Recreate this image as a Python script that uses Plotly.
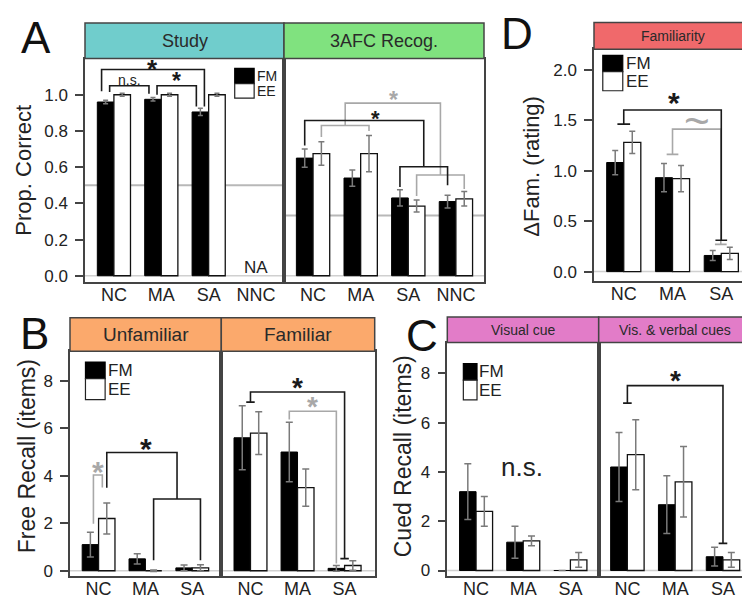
import plotly.graph_objects as go

W, H = 750, 603
FONT = "Liberation Sans, Arial, sans-serif"


def fx(x):
    return x / W


def fy(y):
    return 1 - y / H


# ---------------- data ----------------
cats_A = ["NC", "MA", "SA", "NNC"]
study_fm = [0.96, 0.975, 0.905, None]
study_fm_err = [0.01, 0.01, 0.02, None]
study_ee = [1.0, 1.0, 1.0, None]
study_ee_err = [0.008, 0.008, 0.008, None]
recog_fm = [0.65, 0.54, 0.43, 0.41]
recog_fm_err = [0.05, 0.045, 0.045, 0.035]
recog_ee = [0.675, 0.675, 0.385, 0.425]
recog_ee_err = [0.065, 0.10, 0.033, 0.04]

cats = ["NC", "MA", "SA"]
famrate_fm = [1.08, 0.93, 0.16]
famrate_fm_err = [0.12, 0.14, 0.05]
famrate_ee = [1.28, 0.92, 0.18]
famrate_ee_err = [0.11, 0.13, 0.06]

unfam_fm = [1.1, 0.5, 0.12]
unfam_fm_err = [0.52, 0.22, 0.12]
unfam_ee = [2.2, 0.0, 0.12]
unfam_ee_err = [0.65, 0.03, 0.13]
fam_fm = [5.6, 5.0, 0.1]
fam_fm_err = [1.35, 1.25, 0.12]
fam_ee = [5.8, 3.5, 0.22]
fam_ee_err = [0.9, 0.78, 0.2]

vis_fm = [3.2, 1.15, 0.0]
vis_fm_err = [1.13, 0.65, 0.0]
vis_ee = [2.4, 1.2, 0.43]
vis_ee_err = [0.6, 0.2, 0.3]
vv_fm = [4.2, 2.67, 0.56]
vv_fm_err = [1.4, 1.17, 0.38]
vv_ee = [4.7, 3.6, 0.43]
vv_ee_err = [1.42, 1.43, 0.3]

# ---------------- panels ----------------
panels = {
    1: (77, 276, 51, 276, [-0.033, 1.2], [-0.61, 3.59], cats_A, study_fm, study_fm_err, study_ee, study_ee_err,
        [0, 0.2, 0.4, 0.6, 0.8, 1.0], "{:.1f}", 2.5),
    2: (276, 476, 51, 276, [-0.033, 1.2], [-0.61, 3.59], cats_A, recog_fm, recog_fm_err, recog_ee, recog_ee_err,
        None, None, 3),
    3: (586, 744, 41.7, 275, [-0.09, 2.2], [-0.61, 2.63], cats, famrate_fm, famrate_fm_err, famrate_ee,
        famrate_ee_err, [0, 0.5, 1.0, 1.5, 2.0], "{:.1f}", 3),
    4: (62, 213.3, 346, 572.7, [-0.22, 9.25], [-0.61, 2.62], cats, unfam_fm, unfam_fm_err, unfam_ee, unfam_ee_err,
        [0, 2, 4, 6, 8], "{:d}", 3.5),
    5: (213.3, 366.7, 346, 572.7, [-0.22, 9.25], [-0.62, 2.64], cats, fam_fm, fam_fm_err, fam_ee, fam_ee_err,
        None, None, 3.5),
    6: (439.3, 590.7, 337.3, 572.7, [-0.22, 9.25], [-0.61, 2.6], cats, vis_fm, vis_fm_err, vis_ee, vis_ee_err,
        [0, 2, 4, 6, 8], "{:d}", 3.5),
    7: (590.7, 742.7, 337.3, 572.7, [-0.22, 9.25], [-0.6, 2.58], cats, vv_fm, vv_fm_err, vv_ee, vv_ee_err,
        None, None, 3.5),
}

fig = go.Figure()
layout_axes = {}
ERRC = "#7a7a7a"
for k, (x0, x1, yt, yb, yr, xr, cs, fm, fme, ee, eee, yt_vals, fmt, capw) in panels.items():
    xa = "x" if k == 1 else f"x{k}"
    ya = "y" if k == 1 else f"y{k}"
    xs = list(range(len(cs)))
    fig.add_trace(go.Bar(x=xs, y=fm, xaxis=xa, yaxis=ya, name="FM", showlegend=False,
                         marker=dict(color="#000000", line=dict(color="#000000", width=1)),
                         error_y=dict(type="data", array=fme, color=ERRC, thickness=1.5, width=capw)))
    fig.add_trace(go.Bar(x=xs, y=ee, xaxis=xa, yaxis=ya, name="EE", showlegend=False,
                         marker=dict(color="#ffffff", line=dict(color="#111111", width=1.3)),
                         error_y=dict(type="data", array=eee, color=ERRC, thickness=1.5, width=capw)))
    xkey = "xaxis" if k == 1 else f"xaxis{k}"
    ykey = "yaxis" if k == 1 else f"yaxis{k}"
    layout_axes[xkey] = dict(domain=[fx(x0), fx(x1)], range=xr, anchor=ya, showgrid=False, zeroline=False,
                             showline=True, mirror=True, linecolor="#444", linewidth=1.5,
                             tickvals=xs, ticktext=cs, ticks="", ticklabelstandoff=-4,
                             tickfont=dict(family=FONT, size=18, color="#222"),
                             fixedrange=True)
    yd = dict(domain=[fy(yb), fy(yt)], range=yr, anchor=xa, showgrid=False, zeroline=False,
              showline=True, mirror=True, linecolor="#444", linewidth=1.5, fixedrange=True)
    if yt_vals is not None:
        yd.update(tickvals=yt_vals, ticktext=[fmt.format(v) for v in yt_vals], ticks="outside",
                  ticklen=8, tickwidth=1.5, tickcolor="#444",
                  tickfont=dict(family=FONT, size=17, color="#222"), ticklabelstandoff=4)
    else:
        yd.update(showticklabels=False, ticks="")
    layout_axes[ykey] = yd

shapes = []
annotations = []


def refs(k):
    return ("x" if k == 1 else f"x{k}"), ("y" if k == 1 else f"y{k}")


# reference lines
for k in panels:
    xr_, yr_ = refs(k)
    shapes.append(dict(type="line", xref=xr_ + " domain", yref=yr_, x0=0, x1=1, y0=0, y1=0,
                       line=dict(color="#d0d0d0", width=1.5), layer="below"))
shapes.append(dict(type="line", xref="x domain", yref="y", x0=0, x1=1, y0=0.5, y1=0.5,
                   line=dict(color="#b8b8b8", width=2), layer="below"))
shapes.append(dict(type="line", xref="x2 domain", yref="y2", x0=0, x1=1, y0=1 / 3, y1=1 / 3,
                   line=dict(color="#b8b8b8", width=2), layer="below"))

# header strips
headers = [
    (77, 276, 15, 51, "#70cdcc", "Study", 18),
    (276, 476, 15, 51, "#80e27f", "3AFC Recog.", 18),
    (586, 744, 14.7, 41.7, "#f0696b", "Familiarity", 14),
    (62, 213.3, 312.3, 346, "#fba96c", "Unfamiliar", 19),
    (213.3, 366.7, 312.3, 346, "#fba96c", "Familiar", 19),
    (439.3, 590.7, 311.7, 337.3, "#e27cc8", "Visual cue", 14),
    (590.7, 742.7, 311.7, 337.3, "#e27cc8", "Vis. & verbal cues", 14),
]
for x0, x1, y0, y1, col, txt, sz in headers:
    shapes.append(dict(type="rect", xref="paper", yref="paper", x0=fx(x0), x1=fx(x1), y0=fy(y1), y1=fy(y0),
                       fillcolor=col, line=dict(color="#444", width=1.5), layer="above"))
    annotations.append(dict(text=txt, xref="paper", yref="paper", x=fx((x0 + x1) / 2), y=fy((y0 + y1) / 2),
                            xanchor="center", yanchor="middle", showarrow=False,
                            font=dict(family=FONT, size=sz, color="#2a2a2a")))

# panel letters
for txt, cx, cy in [("A", 28, 30), ("D", 509, 26), ("B", 26, 328), ("C", 414, 330)]:
    annotations.append(dict(text=txt, xref="paper", yref="paper", x=fx(cx), y=fy(cy), xanchor="center",
                            yanchor="middle", showarrow=False, font=dict(family=FONT, size=44, color="#111")))

# y titles
for txt, cx, cy, sz in [("Prop. Correct", 16, 164, 22), ("\u0394Fam. (rating)", 524, 160, 22),
                        ("Free Recall (items)", 19, 452, 23), ("Cued Recall (items)", 395, 452, 23)]:
    annotations.append(dict(text=txt, xref="paper", yref="paper", x=fx(cx), y=fy(cy), xanchor="center",
                            yanchor="middle", textangle=-90, showarrow=False,
                            font=dict(family=FONT, size=sz, color="#222")))

BLACK = "#1a1a1a"
GREY = "#a8a8a8"
OFF = 0.175  # half bar width: FM bar centred at i-OFF, EE bar at i+OFF


def FM(i):
    return i - OFF


def EE(i):
    return i + OFF


def poly(k, pts, color):
    xr_, yr_ = refs(k)
    path = "M " + " L ".join(f"{x},{y}" for x, y in pts)
    shapes.append(dict(type="path", path=path, xref=xr_, yref=yr_, line=dict(color=color, width=1.6),
                       layer="above"))


def cap(k, x, y, color, hw=0.1):
    poly(k, [(x - hw, y), (x + hw, y)], color)


def star(k, x, y, color, size, txt="<b>*</b>"):
    xr_, yr_ = refs(k)
    annotations.append(dict(text=txt, xref=xr_, yref=yr_, x=x, y=y, xanchor="center", yanchor="middle",
                            yshift=-0.2 * size, showarrow=False,
                            font=dict(family=FONT, size=size, color=color)))


def label(k, x, y, txt, size, color="#222"):
    xr_, yr_ = refs(k)
    annotations.append(dict(text=txt, xref=xr_, yref=yr_, x=x, y=y, xanchor="center", yanchor="middle",
                            showarrow=False, font=dict(family=FONT, size=size, color=color)))


def legend(k, x0, x1, yb0, yb1, yw0, tx, size):
    xr_, yr_ = refs(k)
    shapes.append(dict(type="rect", xref=xr_, yref=yr_, x0=x0, x1=x1, y0=yb0, y1=yb1, fillcolor="#000",
                       line=dict(color="#000", width=1.2), layer="above"))
    shapes.append(dict(type="rect", xref=xr_, yref=yr_, x0=x0, x1=x1, y0=yw0, y1=yb0, fillcolor="#fff",
                       line=dict(color="#222", width=1.2), layer="above"))
    for t, yy in [("FM", (yb0 + yb1) / 2), ("EE", (yw0 + yb0) / 2)]:
        annotations.append(dict(text=t, xref=xr_, yref=yr_, x=tx, y=yy, xanchor="left", yanchor="middle",
                                showarrow=False, font=dict(family=FONT, size=size, color="#222")))


# ---- Panel A, study ----
d = 0.085
poly(1, [(FM(0) - d, 1.02), (FM(0) - d, 1.14), (FM(2) + d, 1.14), (FM(2) + d, 0.935)], BLACK)
poly(1, [(FM(0) + d, 1.015), (FM(0) + d, 1.05), (FM(1) - d, 1.05), (FM(1) - d, 1.005)], BLACK)
poly(1, [(FM(1) + d, 1.0), (FM(1) + d, 1.05), (FM(2) - d, 1.05), (FM(2) - d, 0.935)], BLACK)
star(1, 0.82, 1.17, BLACK, 26)
star(1, 1.33, 1.10, BLACK, 23)
label(1, 0.33, 1.08, "n.s.", 14)
label(1, 3.0, 0.045, "NA", 17)
legend(1, 2.55, 2.96, 1.062, 1.146, 0.981, 2.98, 14)

# ---- Panel A, recognition ----
mid_sa_nnc_fm = (FM(2) + FM(3)) / 2
mid_nc_ma_ee = (EE(0) + EE(1)) / 2
mid_sa_nnc_ee = (EE(2) + EE(3)) / 2
poly(2, [(mid_nc_ma_ee, 0.83), (mid_nc_ma_ee, 0.954), (mid_sa_nnc_ee, 0.954), (mid_sa_nnc_ee, 0.557)], GREY)
poly(2, [(EE(0), 0.766), (EE(0), 0.83), (EE(1), 0.83), (EE(1), 0.80)], GREY)
poly(2, [(EE(2), 0.44), (EE(2), 0.557), (EE(3), 0.557), (EE(3), 0.48)], GREY)
poly(2, [(FM(0), 0.72), (FM(0), 0.858), (mid_sa_nnc_fm, 0.858), (mid_sa_nnc_fm, 0.602)], BLACK)
poly(2, [(FM(2), 0.49), (FM(2), 0.602), (FM(3), 0.602), (FM(3), 0.50)], BLACK)
star(2, 1.68, 0.995, GREY, 23)
star(2, 1.31, 0.894, BLACK, 22)

# ---- Panel D ----
poly(3, [(1.99, 0.27), (1.99, 1.41), (1.0, 1.41), (1.0, 1.16)], GREY)
cap(3, 1.0, 1.16, GREY, 0.12)
cap(3, 1.99, 0.27, GREY, 0.12)
poly(3, [(0, 1.46), (0, 1.6), (2.0, 1.6), (2.0, 0.31)], BLACK)
cap(3, 0, 1.46, BLACK, 0.13)
cap(3, 2.0, 0.31, BLACK, 0.12)
star(3, 1.04, 1.73, BLACK, 30)
label(3, 1.51, 1.50, "~", 44, GREY)
legend(3, -0.43, -0.02, 1.98, 2.14, 1.79, 0.0, 17)

# ---- Panel B, unfamiliar ----
poly(4, [(-0.11, 1.98), (-0.11, 4.03), (0.08, 4.03), (0.08, 3.51)], GREY)
mid_ma_sa_ee = (EE(1) + EE(2)) / 2
poly(4, [(EE(0), 3.49), (EE(0), 4.98), (mid_ma_sa_ee, 4.98), (mid_ma_sa_ee, 3.02)], BLACK)
poly(4, [(EE(1), 0.44), (EE(1), 3.02), (EE(2), 3.02), (EE(2), 0.44)], BLACK)
star(4, -0.01, 4.42, GREY, 30)
star(4, 1.02, 5.4, BLACK, 30)
legend(4, -0.28, 0.14, 8.09, 8.79, 7.21, 0.16, 17)

# ---- Panel B, familiar ----
poly(5, [(FM(1), 6.37), (FM(1), 6.72), (FM(2), 6.72), (FM(2), 0.3)], GREY)
poly(5, [(0, 7.1), (0, 7.53), (2.0, 7.53), (2.0, 0.51)], BLACK)
cap(5, 0, 7.1, BLACK, 0.09)
cap(5, 2.0, 0.51, BLACK, 0.09)
star(5, 1.0, 7.95, BLACK, 28)
star(5, 1.31, 7.14, GREY, 28)

# ---- Panel C ----
label(6, 0.98, 4.18, "n.s.", 26)
legend(6, -0.27, 0.02, 7.72, 8.39, 6.92, 0.03, 17)
poly(7, [(0, 6.79), (0, 7.5), (2.0, 7.5), (2.0, 1.1)], BLACK)
cap(7, 0, 6.79, BLACK, 0.09)
cap(7, 2.0, 1.1, BLACK, 0.09)
star(7, 1.0, 7.92, BLACK, 28)

fig.update_layout(
    width=W, height=H, margin=dict(l=0, r=0, t=0, b=0), paper_bgcolor="white", plot_bgcolor="white",
    barmode="group", bargap=0.3, bargroupgap=0.0, showlegend=False,
    font=dict(family=FONT, color="#222"), shapes=shapes, annotations=annotations, **layout_axes,
)
fig.write_html("out.html")
